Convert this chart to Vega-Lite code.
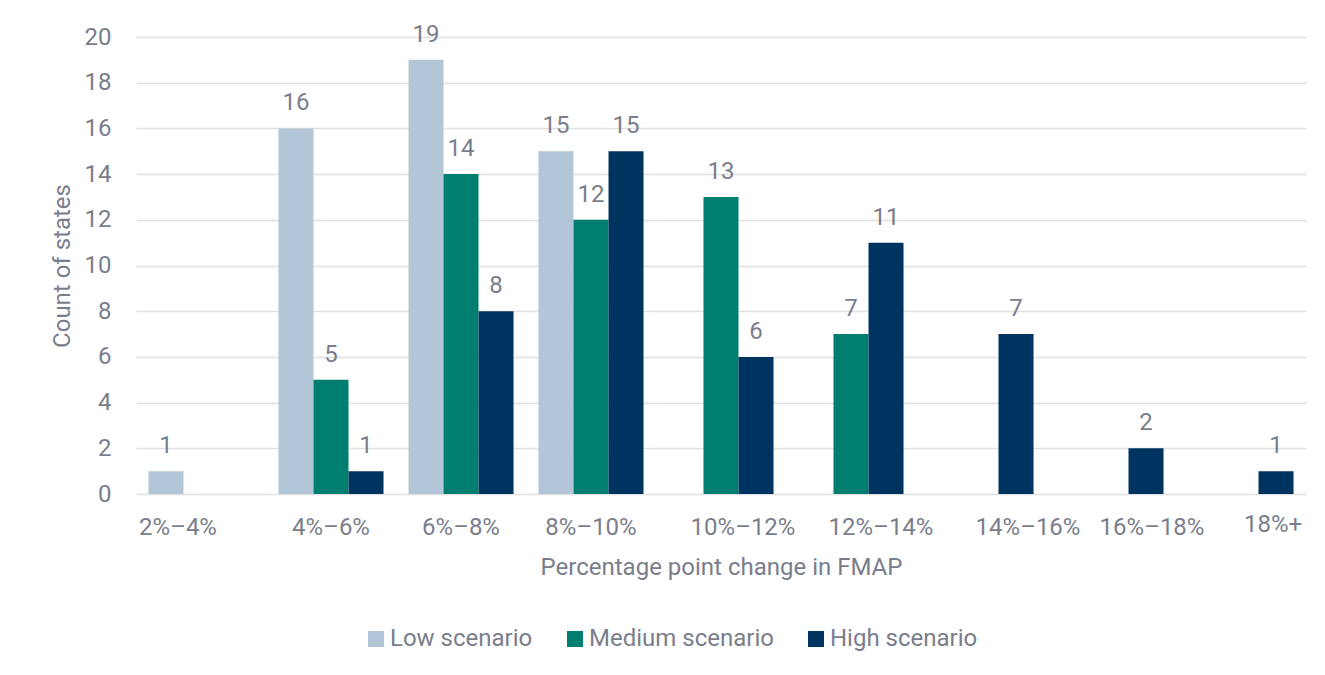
{
  "$schema": "https://vega.github.io/schema/vega-lite/v6.json",
  "width": 1170,
  "height": 457,
  "autosize": {"type": "none"},
  "padding": {"left": 136, "top": 37, "right": 19, "bottom": 181},
  "background": "white",
  "config": {
    "font": "Roboto",
    "view": {"stroke": null},
    "axis": {
      "labelFont": "Roboto",
      "titleFont": "Roboto",
      "labelFontSize": 24,
      "titleFontSize": 24,
      "titleFontWeight": "normal",
      "labelColor": "#7a7e8c",
      "titleColor": "#7a7e8c",
      "ticks": false,
      "domain": false
    },
    "legend": {
      "labelFont": "Roboto",
      "labelFontSize": 24,
      "labelColor": "#7a7e8c",
      "labelLimit": 400
    }
  },
  "data": {
    "values": [
      {"range": "2%–4%", "scenario": "Low scenario", "states": 1},
      {"range": "2%–4%", "scenario": "Medium scenario", "states": 0},
      {"range": "2%–4%", "scenario": "High scenario", "states": 0},
      {"range": "4%–6%", "scenario": "Low scenario", "states": 16},
      {"range": "4%–6%", "scenario": "Medium scenario", "states": 5},
      {"range": "4%–6%", "scenario": "High scenario", "states": 1},
      {"range": "6%–8%", "scenario": "Low scenario", "states": 19},
      {"range": "6%–8%", "scenario": "Medium scenario", "states": 14},
      {"range": "6%–8%", "scenario": "High scenario", "states": 8},
      {"range": "8%–10%", "scenario": "Low scenario", "states": 15},
      {"range": "8%–10%", "scenario": "Medium scenario", "states": 12},
      {"range": "8%–10%", "scenario": "High scenario", "states": 15},
      {"range": "10%–12%", "scenario": "Low scenario", "states": 0},
      {"range": "10%–12%", "scenario": "Medium scenario", "states": 13},
      {"range": "10%–12%", "scenario": "High scenario", "states": 6},
      {"range": "12%–14%", "scenario": "Low scenario", "states": 0},
      {"range": "12%–14%", "scenario": "Medium scenario", "states": 7},
      {"range": "12%–14%", "scenario": "High scenario", "states": 11},
      {"range": "14%–16%", "scenario": "Low scenario", "states": 0},
      {"range": "14%–16%", "scenario": "Medium scenario", "states": 0},
      {"range": "14%–16%", "scenario": "High scenario", "states": 7},
      {"range": "16%–18%", "scenario": "Low scenario", "states": 0},
      {"range": "16%–18%", "scenario": "Medium scenario", "states": 0},
      {"range": "16%–18%", "scenario": "High scenario", "states": 2},
      {"range": "18%+", "scenario": "Low scenario", "states": 0},
      {"range": "18%+", "scenario": "Medium scenario", "states": 0},
      {"range": "18%+", "scenario": "High scenario", "states": 1}
    ]
  },
  "encoding": {
    "x": {
      "field": "range",
      "type": "nominal",
      "sort": null,
      "scale": {"paddingInner": 0.192, "paddingOuter": 0.096},
      "axis": {
        "title": "Percentage point change in FMAP",
        "labelAngle": 0,
        "labelAlign": "center",
        "titlePadding": 16,
        "labelOffset": {
          "condition": [
            {"test": "datum.value === '2%–4%'", "value": -23},
            {"test": "datum.value === '10%–12%'", "value": 22},
            {"test": "datum.value === '12%–14%'", "value": 30},
            {"test": "datum.value === '14%–16%'", "value": 47},
            {"test": "datum.value === '16%–18%'", "value": 41},
            {"test": "datum.value === '18%+'", "value": 32}
          ],
          "value": 0
        },
        "labelPadding": {
          "condition": {"test": "datum.value === '18%+'", "value": 18},
          "value": 21
        }
      }
    },
    "xOffset": {
      "field": "scenario",
      "type": "nominal",
      "sort": ["Low scenario", "Medium scenario", "High scenario"],
      "scale": {"paddingInner": 0, "paddingOuter": 0}
    },
    "y": {
      "field": "states",
      "type": "quantitative",
      "scale": {"domain": [0, 20], "nice": false},
      "axis": {
        "title": "Count of states",
        "values": [0, 2, 4, 6, 8, 10, 12, 14, 16, 18, 20],
        "labelPadding": 25,
        "titlePadding": 10,
        "grid": true,
        "gridColor": "#e0e0e2",
        "gridWidth": 1.5
      }
    }
  },
  "layer": [
    {
      "mark": {"type": "bar"},
      "encoding": {
        "color": {
          "field": "scenario",
          "type": "nominal",
          "sort": ["Low scenario", "Medium scenario", "High scenario"],
          "scale": {
            "domain": ["Low scenario", "Medium scenario", "High scenario"],
            "range": ["#b2c6d7", "#007e6f", "#003460"]
          },
          "legend": {
            "title": null,
            "orient": "none",
            "direction": "horizontal",
            "legendX": 228,
            "legendY": 590,
            "symbolType": "square",
            "symbolSize": 256,
            "symbolStrokeWidth": 0,
            "labelOffset": 2,
            "columnPadding": 30
          }
        }
      }
    },
    {
      "transform": [{"filter": "datum.states > 0"}],
      "mark": {
        "type": "text",
        "baseline": "alphabetic",
        "dy": -18,
        "fontSize": 24,
        "font": "Roboto",
        "color": "#7a7e8c"
      },
      "encoding": {
        "text": {"field": "states", "type": "quantitative"}
      }
    }
  ]
}
